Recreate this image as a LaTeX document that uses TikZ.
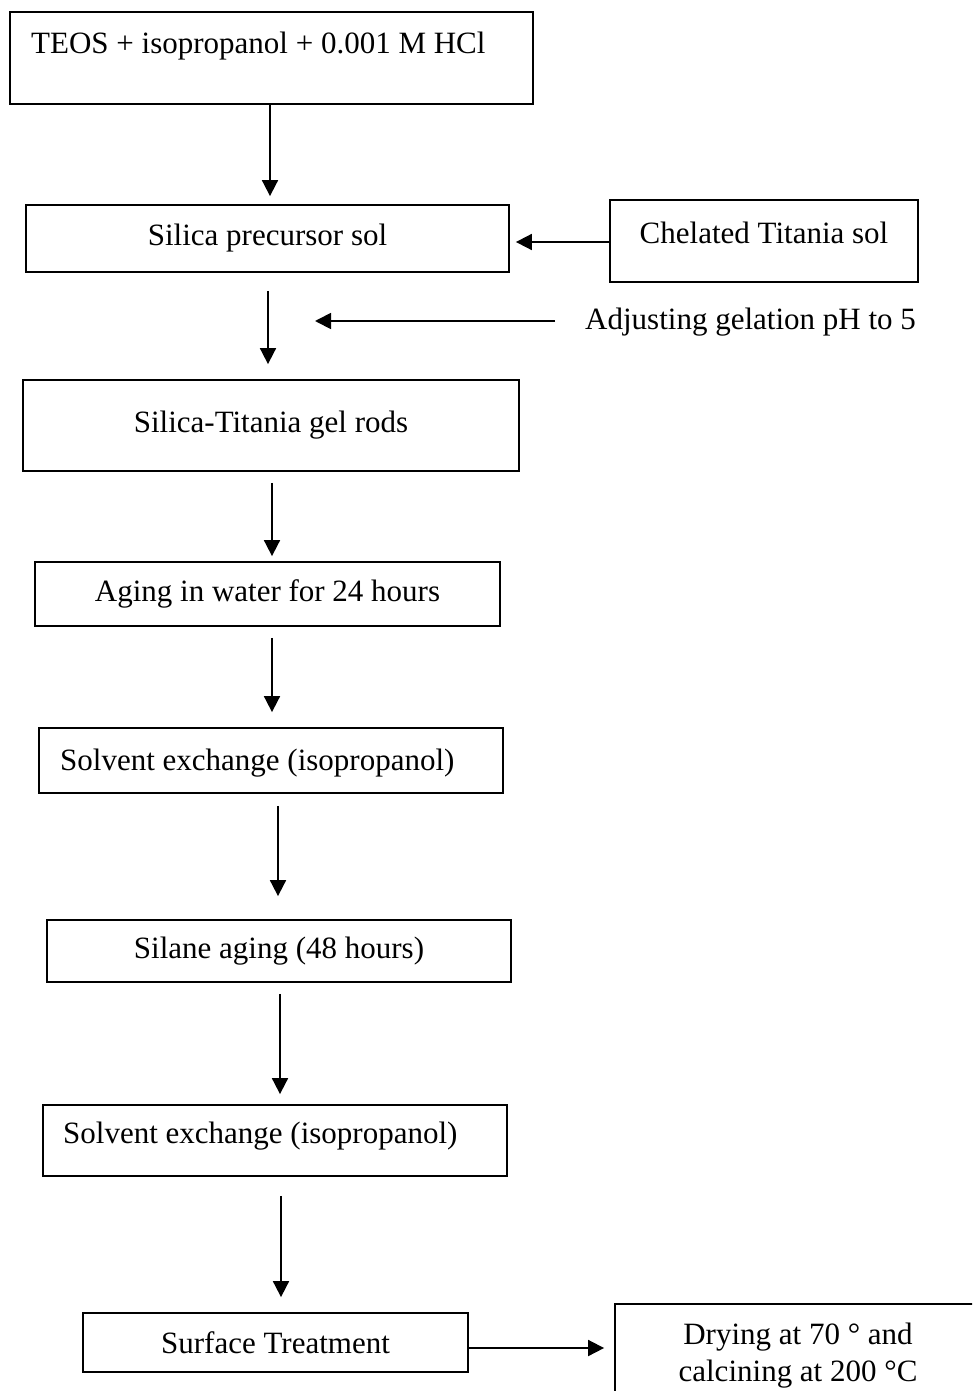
\documentclass[tikz,border=0pt]{standalone}
\usepackage{fontspec}
\setmainfont{Liberation Serif}
\usetikzlibrary{arrows.meta,calc}
\begin{document}
\begin{tikzpicture}[x=1pt,y=-1pt,
  box/.style={draw,line width=1.8pt,rectangle,inner sep=0pt,font=\fontsize{31}{37}\selectfont},
  txt/.style={inner sep=0pt,font=\fontsize{31}{37}\selectfont},
  arr/.style={line width=1.8pt,-{Triangle[length=16pt,width=16pt]}}]
\useasboundingbox (0,0) rectangle (972,1391);
\begin{scope}
\clip (0,0) rectangle (972,1391);
% boxes
\node[box,minimum width=523pt,minimum height=92pt] (teos) at (271.5,58) {};
\node[txt,anchor=west] (teost) at (31,46) {TEOS + isopropanol + 0.001 M HCl};
\node[box,minimum width=483pt,minimum height=67pt] (sil) at (267.5,238.5) {\raisebox{-1pt}{Silica precursor sol}};
\node[box,minimum width=308pt,minimum height=82pt] (chel) at (764,241) {};
\node[txt] (chelt) at (764,233) {Chelated Titania sol};
\node[txt,anchor=west] (adj) at (585,322) {Adjusting gelation pH to 5};
\node[box,minimum width=496pt,minimum height=91pt] (gel) at (271,425.5) {\raisebox{-2pt}{Silica-Titania gel rods}};
\node[box,minimum width=465pt,minimum height=64pt] (age) at (267.5,594) {\raisebox{-2pt}{Aging in water for 24 hours}};
\node[box,minimum width=464pt,minimum height=65pt] (solv1) at (271,760.5) {};
\node[txt,anchor=west] (solv1t) at (60,763) {Solvent exchange (isopropanol)};
\node[box,minimum width=464pt,minimum height=62pt] (silane) at (279,951) {\raisebox{-2pt}{Silane aging (48 hours)}};
\node[box,minimum width=464pt,minimum height=71pt] (solv2) at (275,1140.5) {};
\node[txt,anchor=west] (solv2t) at (63,1136) {Solvent exchange (isopropanol)};
\node[box,minimum width=385pt,minimum height=59pt] (surf) at (275.5,1342.5) {\raisebox{-1pt}{Surface Treatment}};
\node[box,minimum width=400pt,minimum height=110pt] (dry) at (815,1359) {};
\node[txt,align=center] (dryt) at (798,1356) {Drying at 70 ° and\\calcining at 200 °C};
\end{scope}
% connectors
\draw[arr] (teos.south -| 270,0) -- ($(sil.north -| 270,0)+(0,-8)$);
\draw[arr] (chel.west |- 0,242) -- ($(sil.east |- 0,242)+(6,0)$);
\draw[arr] ($(sil.south -| 268,0)+(0,18)$) -- ($(gel.north -| 268,0)+(0,-15)$);
\draw[arr] ($(adj.west)+(-30,-1)$) -- ($(adj.west)+(-270,-1)$);
\draw[arr] ($(gel.south -| 272,0)+(0,11)$) -- ($(age.north -| 272,0)+(0,-5)$);
\draw[arr] ($(age.south -| 272,0)+(0,11)$) -- ($(solv1.north -| 272,0)+(0,-15)$);
\draw[arr] ($(solv1.south -| 278,0)+(0,12)$) -- ($(silane.north -| 278,0)+(0,-23)$);
\draw[arr] ($(silane.south -| 280,0)+(0,11)$) -- ($(solv2.north -| 280,0)+(0,-10)$);
\draw[arr] ($(solv2.south -| 281,0)+(0,19)$) -- ($(surf.north -| 281,0)+(0,-15)$);
\draw[arr] (surf.east |- 0,1348) -- ($(dry.west |- 0,1348)+(-10,0)$);
\end{tikzpicture}
\end{document}
